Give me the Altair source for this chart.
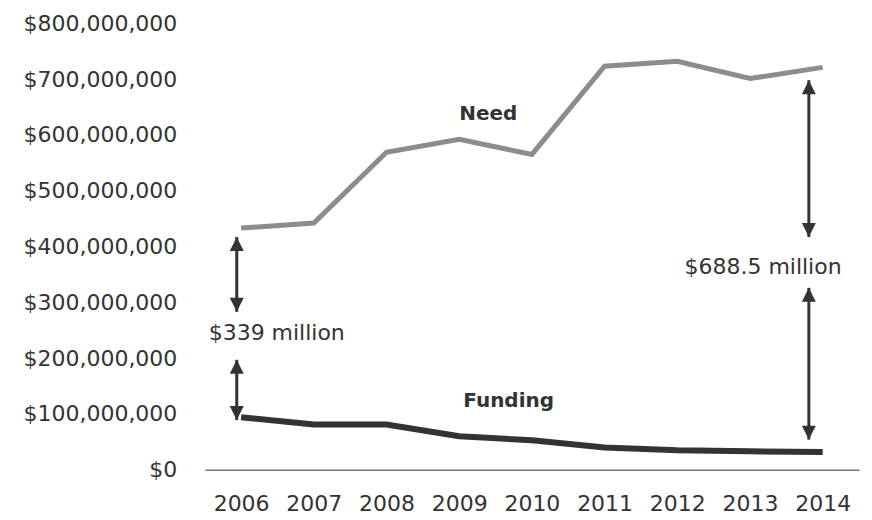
import altair as alt
import pandas as pd

years = [2006, 2007, 2008, 2009, 2010, 2011, 2012, 2013, 2014]
need = [433e6, 442e6, 569e6, 592e6, 565e6, 723e6, 732e6, 701e6, 721e6]
funding = [94e6, 81e6, 81e6, 60e6, 53e6, 40e6, 35e6, 33e6, 32e6]

y_ticks = [0, 100e6, 200e6, 300e6, 400e6, 500e6, 600e6, 700e6, 800e6]

# double-headed arrows: x position, upper tip, lower tip
arrow_x = [2005.94, 2005.94, 2013.81, 2013.81]
arrow_top = [417e6, 197e6, 698e6, 326e6]
arrow_bottom = [283e6, 89e6, 417e6, 54e6]

gap_text = ["$339 million", "$688.5 million"]
gap_x = [2006.49, 2013.18]
gap_y = [245e6, 364e6]

series_text = ["Need", "Funding"]
series_x = [2009.4, 2009.68]
series_y = [637e6, 123e6]

FONT = "DejaVu Sans"
DARK = "#333333"

lines = pd.DataFrame({"year": years, "need": need, "funding": funding})
arrows = pd.DataFrame({"x": arrow_x, "top": arrow_top, "bottom": arrow_bottom})
gaps = pd.DataFrame({"x": gap_x, "y": gap_y, "t": gap_text})
labels = pd.DataFrame({"x": series_x, "y": series_y, "t": series_text})

xscale = alt.Scale(domain=[2005.5, 2014.5], nice=False, zero=False)
yscale = alt.Scale(domain=[0, 800e6], nice=False)

xaxis = alt.Axis(values=years, format="d", title=None, grid=False, ticks=False,
                 domain=True, domainColor="#777777", domainWidth=1.5,
                 labelFont=FONT, labelFontSize=22, labelColor=DARK,
                 labelPadding=24)
yaxis = alt.Axis(values=y_ticks, format="$,.0f", title=None, grid=False,
                 ticks=False, domain=False, labelFont=FONT, labelFontSize=22,
                 labelColor=DARK, labelPadding=28)

base = alt.Chart(lines)

need_line = base.mark_line(color="#8c8c8c", strokeWidth=5).encode(
    x=alt.X("year:Q", scale=xscale, axis=xaxis),
    y=alt.Y("need:Q", scale=yscale, axis=yaxis),
)
fund_line = base.mark_line(color=DARK, strokeWidth=6).encode(
    x=alt.X("year:Q", scale=xscale),
    y=alt.Y("funding:Q", scale=yscale),
)

shafts = alt.Chart(arrows).mark_rule(color=DARK, strokeWidth=3).encode(
    x=alt.X("x:Q", scale=xscale),
    y=alt.Y("top:Q", scale=yscale),
    y2="bottom:Q",
)
up_heads = alt.Chart(arrows).mark_point(
    shape="M0,0L-0.5,1L0.5,1Z", filled=True, size=784, color=DARK, opacity=1
).encode(x=alt.X("x:Q", scale=xscale), y=alt.Y("top:Q", scale=yscale))
down_heads = alt.Chart(arrows).mark_point(
    shape="M0,0L-0.5,-1L0.5,-1Z", filled=True, size=784, color=DARK, opacity=1
).encode(x=alt.X("x:Q", scale=xscale), y=alt.Y("bottom:Q", scale=yscale))

gap_marks = alt.Chart(gaps).mark_text(
    font=FONT, fontSize=22, color=DARK, align="center", baseline="middle"
).encode(x=alt.X("x:Q", scale=xscale), y=alt.Y("y:Q", scale=yscale), text="t:N")

label_marks = alt.Chart(labels).mark_text(
    font=FONT, fontSize=20, fontWeight="bold", color=DARK, align="center",
    baseline="middle"
).encode(x=alt.X("x:Q", scale=xscale), y=alt.Y("y:Q", scale=yscale), text="t:N")

chart = alt.layer(
    need_line, fund_line, shafts, up_heads, down_heads, gap_marks, label_marks
).properties(
    width=655,
    height=447,
    autosize=alt.AutoSizeParams(type="none"),
    padding={"left": 197, "top": 15, "right": 5, "bottom": 48},
    background="white",
).configure_view(stroke=None)

chart.save("out.html", embed_options={"renderer": "svg", "actions": False})
